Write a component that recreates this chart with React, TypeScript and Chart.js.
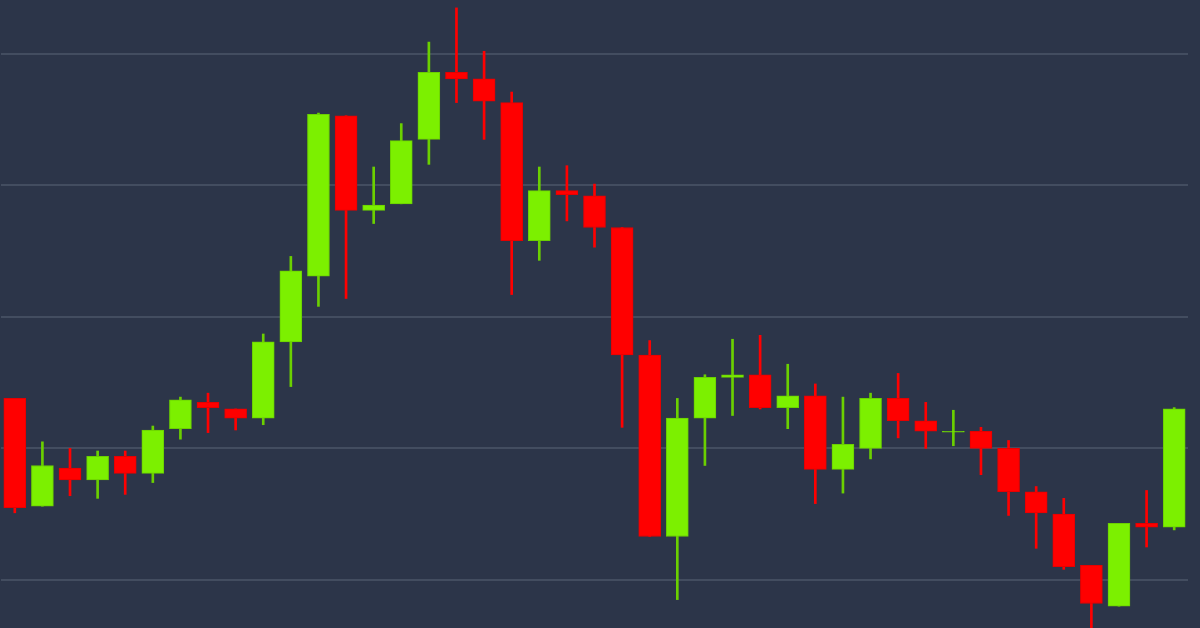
import React, { useEffect, useRef } from "react";
import { Chart, registerables } from "chart.js";

Chart.register(...registerables);

// Candle OHLC values (43 sessions)
const opens = [
  6238, 6156, 6185, 6176, 6194, 6181, 6215, 6235, 6230, 6223,
  6281, 6331, 6453, 6381, 6386, 6435, 6486, 6481, 6463, 6358,
  6396, 6392, 6368, 6271, 6133, 6223, 6254, 6256, 6231, 6240,
  6184, 6200, 6238, 6221, 6212.3, 6213, 6200, 6167, 6150, 6111,
  6080, 6143, 6140,
];
const highs = [
  6238, 6205, 6200, 6198, 6198, 6217, 6239, 6242, 6230, 6287,
  6346, 6455, 6453, 6414, 6447, 6509, 6535, 6502, 6471, 6414,
  6415, 6401, 6368, 6282, 6238, 6256, 6283, 6286, 6264, 6249,
  6239, 6242, 6257, 6235, 6229, 6216, 6206, 6171, 6162, 6111,
  6143, 6168, 6231,
];
const lows = [
  6151, 6156, 6164, 6162, 6165, 6174, 6207, 6212, 6214, 6218,
  6247, 6308, 6314, 6371, 6386, 6416, 6463, 6435, 6317, 6343,
  6373, 6353, 6216, 6133, 6085, 6187, 6225, 6230, 6215, 6158,
  6166, 6192, 6208, 6200, 6202, 6180, 6149, 6124, 6108, 6060,
  6080, 6125, 6138,
];
const closes = [
  6155, 6187, 6176, 6194, 6181, 6214, 6237, 6231, 6223, 6281,
  6335, 6454, 6381, 6385, 6434, 6486, 6481, 6464, 6358, 6396,
  6393, 6368, 6271, 6133, 6223, 6254, 6256, 6231, 6240, 6184,
  6203, 6238, 6221, 6213, 6213, 6200, 6167, 6151, 6110, 6082,
  6143, 6140, 6230,
];
const gridTicks = [6100, 6200, 6300, 6400, 6500];
const labels = opens.map((_, i) => String(i + 1));

const UP = "#7cf000";
const UP_EDGE = "#6bd000";
const DOWN = "#ff0000";
const DOWN_EDGE = "#e60000";
const BG = "#2c3549";

export default function App() {
  const ref = useRef<HTMLCanvasElement | null>(null);

  useEffect(() => {
    document.body.style.margin = "0";
    document.body.style.background = BG;
    const up = opens.map((o, i) => closes[i] >= o);
    const chart = new Chart(ref.current!, {
      type: "bar",
      data: {
        labels,
        datasets: [
          {
            label: "body",
            data: opens.map((o, i) => [o, closes[i]]) as any,
            backgroundColor: up.map((u) => (u ? UP : DOWN)),
            borderColor: up.map((u) => (u ? UP_EDGE : DOWN_EDGE)),
            borderWidth: 1,
            borderSkipped: false,
            barThickness: 22,
            grouped: false,
            order: 0,
          } as any,
          {
            label: "wick",
            data: lows.map((l, i) => [l, highs[i]]) as any,
            backgroundColor: up.map((u) => (u ? UP_EDGE : DOWN)),
            borderWidth: 0,
            barThickness: 2,
            grouped: false,
            order: 1,
          } as any,
        ],
      },
      options: {
        responsive: false,
        devicePixelRatio: 1,
        animation: false,
        layout: { padding: { left: 1, right: 12, top: 0, bottom: 0 } },
        plugins: { legend: { display: false }, tooltip: { enabled: false } },
        scales: {
          x: { display: false, offset: true },
          y: {
            min: 6063.4,
            max: 6541,
            afterBuildTicks: (scale: any) => {
              scale.ticks = gridTicks.map((v) => ({ value: v }));
            },
            ticks: { display: false },
            grid: { color: "#434d60", lineWidth: 2, drawTicks: false },
            border: { display: false },
          },
        },
      },
    });
    return () => chart.destroy();
  }, []);

  return (
    <div style={{ position: "fixed", left: 0, top: 0, width: 1200, height: 628, background: BG }}>
      <canvas ref={ref} width={1200} height={628} />
    </div>
  );
}
